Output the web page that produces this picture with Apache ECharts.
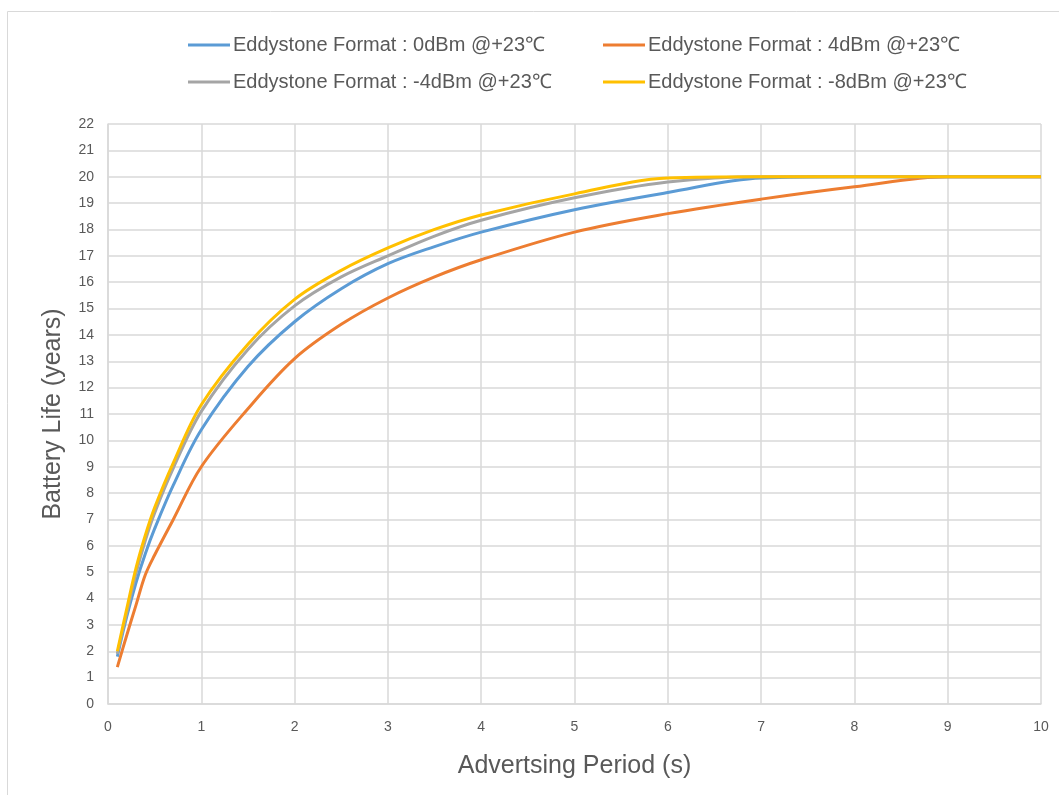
<!DOCTYPE html>
<html>
<head>
<meta charset="utf-8">
<script src="https://cdn.jsdelivr.net/npm/echarts@6/dist/echarts.min.js"></script>
<style>
  html, body { margin: 0; padding: 0; background: #fff; }
  #chart { width: 1059px; height: 795px; }
</style>
</head>
<body>
<div id="chart"></div>
<script>
var periods = [0.1, 0.2, 0.3, 0.4, 0.5, 0.7, 1, 1.5, 2, 2.5, 3, 3.5, 4, 5, 6, 7, 8, 9, 10];

var life0dBm  = [1.8, 3.3, 4.6, 5.7, 6.65, 8.3, 10.4, 12.8, 14.5, 15.75, 16.7, 17.35, 17.9, 18.75, 19.4, 19.95, 20, 20, 20];
var life4dBm  = [1.4, 2.6, 3.75, 4.9, 5.65, 7.0, 9.0, 11.2, 13.1, 14.4, 15.4, 16.2, 16.85, 17.9, 18.6, 19.15, 19.62, 20, 20];
var lifeM4dBm = [1.9, 3.45, 4.95, 6.2, 7.25, 8.95, 11.1, 13.45, 15.1, 16.2, 17.0, 17.75, 18.35, 19.2, 19.8, 20, 20, 20, 20];
var lifeM8dBm = [2.0, 3.6, 5.15, 6.4, 7.45, 9.15, 11.35, 13.65, 15.35, 16.45, 17.3, 18.0, 18.55, 19.35, 19.95, 20, 20, 20, 20];

var names = [
  'Eddystone Format : 0dBm @+23\u2103',
  'Eddystone Format : 4dBm @+23\u2103',
  'Eddystone Format : -4dBm @+23\u2103',
  'Eddystone Format : -8dBm @+23\u2103'
];
var colors = ['#5B9BD5', '#ED7D31', '#A5A5A5', '#FFC000'];
var values = [life0dBm, life4dBm, lifeM4dBm, lifeM8dBm];

function pairs(ys) {
  return periods.map(function (x, i) { return [x, ys[i]]; });
}

var textFont = 'Liberation Sans';
var legendPos = [[183, 30], [598, 30], [183, 67], [598, 67]];

var chart = echarts.init(document.getElementById('chart'));

var option = {
  animation: false,
  color: colors,
  graphic: [{
    type: 'rect',
    shape: { x: 7.5, y: 11.5, width: 1200, height: 900 },
    style: { fill: 'none', stroke: '#d9d9d9', lineWidth: 1 },
    silent: true
  }],
  legend: legendPos.map(function (p, i) {
    return {
      data: [names[i]],
      left: p[0],
      top: p[1],
      itemWidth: 42,
      itemHeight: 3,
      itemGap: 0,
      icon: 'rect',
      textStyle: { fontFamily: textFont, fontSize: 20, color: '#595959', padding: [0, 0, 0, -2] }
    };
  }),
  grid: { left: 108, right: 18, top: 124, bottom: 91 },
  xAxis: {
    type: 'value',
    min: 0,
    max: 10,
    interval: 1,
    name: 'Advertsing Period (s)',
    nameLocation: 'middle',
    nameGap: 50,
    nameTextStyle: { fontFamily: textFont, fontSize: 25, color: '#595959' },
    axisLine: { show: true, lineStyle: { color: '#d9d9d9', width: 1.5 } },
    axisTick: { show: false },
    axisLabel: { fontFamily: textFont, fontSize: 14, color: '#595959', margin: 16 },
    splitLine: { show: true, lineStyle: { color: '#d9d9d9', width: 1.5 } }
  },
  yAxis: {
    type: 'value',
    min: 0,
    max: 22,
    interval: 1,
    name: 'Battery Life (years)',
    nameLocation: 'middle',
    nameGap: 42,
    nameTextStyle: { fontFamily: textFont, fontSize: 25, color: '#595959' },
    axisLine: { show: true, lineStyle: { color: '#d9d9d9', width: 1.5 } },
    axisTick: { show: false },
    axisLabel: { fontFamily: textFont, fontSize: 14, color: '#595959', margin: 14 },
    splitLine: { show: true, lineStyle: { color: '#d9d9d9', width: 1.5 } }
  },
  series: values.map(function (v, i) {
    return {
      name: names[i],
      type: 'line',
      smooth: 0.35,
      showSymbol: false,
      lineStyle: { width: 3, color: colors[i] },
      z: i === 1 ? 2 : 3 + i,
      data: pairs(v)
    };
  })
};

chart.setOption(option);
</script>
</body>
</html>
